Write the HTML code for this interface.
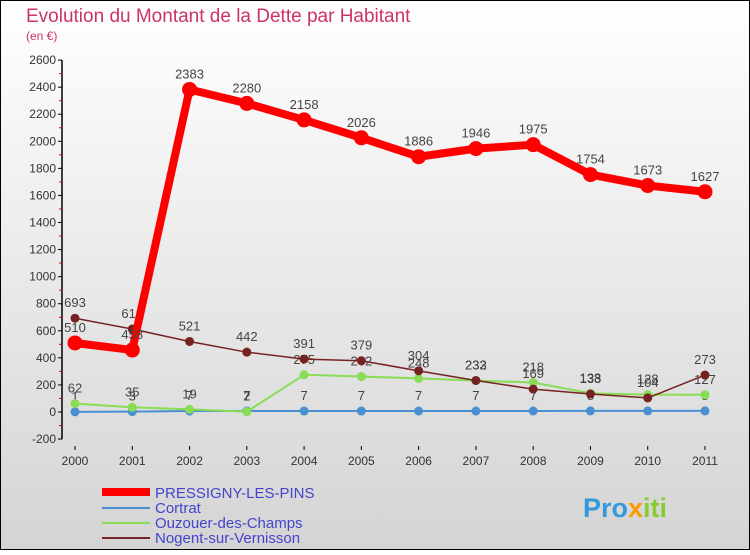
<!DOCTYPE html>
<html><head><meta charset="utf-8"><style>
html,body{margin:0;padding:0}
body{width:750px;height:550px;overflow:hidden;font-family:"Liberation Sans",sans-serif}
</style></head><body>
<svg id="c" width="750" height="550" xmlns="http://www.w3.org/2000/svg">
<defs><linearGradient id="bg" x1="0" y1="0" x2="0" y2="1"><stop offset="0" stop-color="#ffffff"/><stop offset="1" stop-color="#d4d4d4"/></linearGradient></defs>
<rect x="0.5" y="0.5" width="749" height="549" fill="url(#bg)" stroke="#000"/>
<text x="26" y="22" font-size="19" fill="#cc3366">Evolution du Montant de la Dette par Habitant</text>
<text x="26" y="40" font-size="12" fill="#cc3366">(en €)</text>
<g id="axes"></g><g id="series"></g>
<g>
<line x1="102" y1="492" x2="150" y2="492" stroke="#ff0000" stroke-width="8"/>
<text x="155" y="498" font-size="15" fill="#4444cc">PRESSIGNY-LES-PINS</text>
<line x1="102" y1="508" x2="150" y2="508" stroke="#4a90d0" stroke-width="2"/>
<text x="155" y="513" font-size="15" fill="#4444cc">Cortrat</text>
<line x1="102" y1="523" x2="150" y2="523" stroke="#88dd55" stroke-width="2"/>
<text x="155" y="528" font-size="15" fill="#4444cc">Ouzouer-des-Champs</text>
<line x1="102" y1="538" x2="150" y2="538" stroke="#772222" stroke-width="2"/>
<text x="155" y="543" font-size="15" fill="#4444cc">Nogent-sur-Vernisson</text>
</g>
<text x="583" y="517" font-size="27" font-weight="bold" fill="#3399dd">Pro<tspan fill="#ff9900">x</tspan><tspan fill="#88cc33">iti</tspan></text>
</svg>
<script>
const years=["2000","2001","2002","2003","2004","2005","2006","2007","2008","2009","2010","2011"];
const yTicks=[-200,0,200,400,600,800,1000,1200,1400,1600,1800,2000,2200,2400,2600];
const pressigny=[510,458,2383,2280,2158,2026,1886,1946,1975,1754,1673,1627];
const cortrat=[1,3,7,7,7,7,7,7,7,8,8,8];
const ouzouer=[62,35,19,2,275,262,248,232,218,138,128,127];
const nogent=[693,613,521,442,391,379,304,233,169,133,104,273];
const NS="http://www.w3.org/2000/svg";
const X=i=>75+i*(630/11);
const Y=v=>412-v*(27.07/200);
function mk(t,a,p){const e=document.createElementNS(NS,t);for(const k in a)e.setAttribute(k,a[k]);p.appendChild(e);return e;}
const ax=document.getElementById('axes');
const yl=mk('line',{x1:62,y1:Y(2600),x2:62,y2:Y(-200),stroke:'#000','stroke-width':1.5},ax);


yTicks.forEach(v=>{
 mk('line',{x1:58,x2:62,y1:Y(v),y2:Y(v),stroke:'#000'},ax);
 if(v<2600) mk('line',{x1:59,x2:62,y1:Y(v+100),y2:Y(v+100),stroke:'#e00'},ax);
 const t=mk('text',{x:56,y:Y(v)+4,'font-size':12,'text-anchor':'end',fill:'#333'},ax);
 
 
 t.textContent=v;
});
years.forEach((y,i)=>{
 mk('line',{x1:X(i),x2:X(i),y1:446,y2:450,stroke:'#000'},ax);
 const t=mk('text',{x:X(i),y:465,'font-size':12,'text-anchor':'middle',fill:'#333'},ax);
 
 
 t.textContent=y;
});
const sg=document.getElementById('series');
function series(name,vals,color,w,r){
 const g=mk('g',{},sg);
 
 
 const pl=mk('polyline',{points:vals.map((v,i)=>X(i)+','+Y(v)).join(' '),fill:'none',stroke:color,'stroke-width':w,'stroke-linejoin':'round'},g);
 
 
 vals.forEach((v,i)=>{
  const c=mk('circle',{cx:X(i),cy:Y(v),r:r,fill:color},g);
  
  
  const t=mk('text',{x:X(i),y:Y(v)-11,'font-size':13,'text-anchor':'middle',fill:'#444'},g);
  
  
  t.textContent=v;
 });
}
series('cortrat',cortrat,'#4a90d0',2,4.5);
series('ouzouer',ouzouer,'#88dd55',2,4.5);
series('nogent',nogent,'#772222',1.5,4.5);
series('pressigny',pressigny,'#ff0000',8,7.5);
</script>
</body></html>
